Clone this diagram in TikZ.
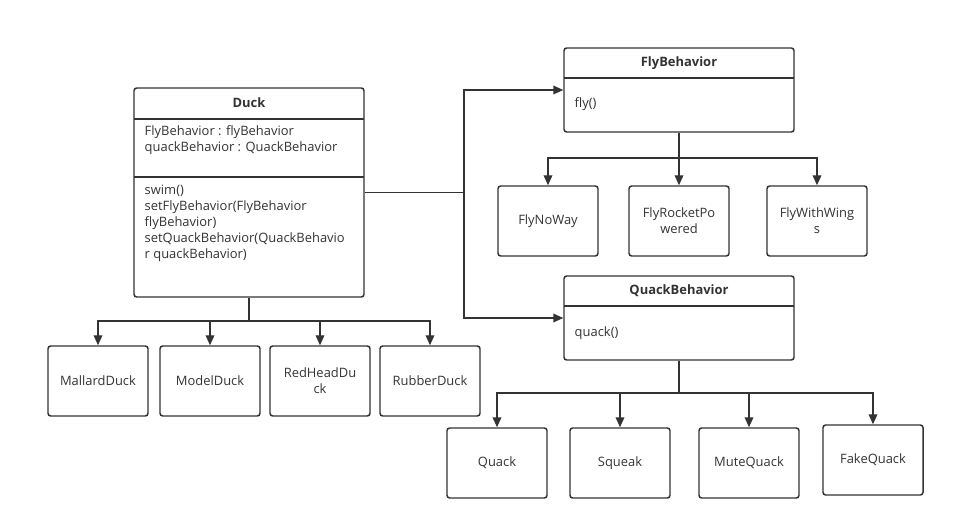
\documentclass[tikz,border=0pt]{standalone}
\usepackage{fontspec}
\setmainfont{Open Sans}
\usetikzlibrary{arrows.meta}
\definecolor{umlgray}{HTML}{333333}

\begin{document}
\begin{tikzpicture}[x=0.75pt,y=-0.75pt,line width=1.1pt,
	every node/.style={text=umlgray,font=\fontsize{9.7}{12}\selectfont},
	classbox/.style={draw=umlgray,rounded corners=2pt,inner sep=0pt,minimum width=172.5pt},
	subbox/.style={draw=umlgray,rounded corners=2pt,minimum width=75pt,minimum height=52.5pt,align=center,inner sep=1pt},
	titletext/.style={font=\fontsize{9.7}{12}\selectfont\bfseries},
	bodytext/.style={anchor=north west,align=left,inner sep=0pt},
	arr/.style={draw=umlgray,-{Triangle[length=7.5pt,width=6.5pt]}},
	bus/.style={draw=umlgray}]
	\useasboundingbox (0,0) rectangle (955,530);

	% classes
	\node[classbox,minimum height=156.75pt] (duck)  at (249,192.5) {};
	\node[classbox,minimum height=63pt]     (fly)   at (679,90)    {};
	\node[classbox,minimum height=63pt]     (quack) at (679,318)   {};

	\node[titletext] (ducktitle)  at (249,103) {Duck};
	\node[titletext] (flytitle)   at (679,63)  {FlyBehavior};
	\node[titletext] (quacktitle) at (679,291) {QuackBehavior};

	\draw[umlgray] (134,119) -- (364,119);
	\draw[umlgray] (134,177) -- (364,177);
	\draw[umlgray] (564,78)  -- (794,78);
	\draw[umlgray] (564,306) -- (794,306);

	\node[bodytext] (duckfields) at (144,124.5) {FlyBehavior : flyBehavior\\quackBehavior : QuackBehavior};
	\node[bodytext] (duckmethods) at (144,184.5) {swim()\\setFlyBehavior(FlyBehavior\\flyBehavior)\\setQuackBehavior(QuackBehavio\\r quackBehavior)};
	\node[bodytext] (flymethods)   at (574,97)  {fly()};
	\node[bodytext] (quackmethods) at (574,326) {quack()};

	% subclasses
	\node[subbox] (mallard)  at (98,381)  {MallardDuck};
	\node[subbox] (model)    at (210,381) {ModelDuck};
	\node[subbox] (redhead)  at (320,381) {RedHeadDu\\ck};
	\node[subbox] (rubber)   at (430,381) {RubberDuck};

	\node[subbox] (flynoway)  at (548,221) {FlyNoWay};
	\node[subbox] (flyrocket) at (679,221) {FlyRocketPo\\wered};
	\node[subbox] (flywings)  at (817,221) {FlyWithWing\\s};

	\node[subbox] (quackq)   at (497,463) {Quack};
	\node[subbox] (squeak)   at (620,463) {Squeak};
	\node[subbox] (mute)     at (749,463) {MuteQuack};
	\node[subbox] (fake)     at (873,460) {FakeQuack};

	% connectors
	\coordinate (split)    at (464,192.5);
	\coordinate (duckbus)  at (249,321);
	\coordinate (flybus)   at (679,158);
	\coordinate (quackbus) at (679,393);

	\path[bus] (duck.east) -- (split);
	\path[arr] (split) |- (fly.west);
	\path[arr] (split) |- (quack.west);

	\path[bus] (duck.south) -- (duckbus);
	\path[arr] (duckbus) -| (mallard.north);
	\path[arr] (duckbus) -| (model.north);
	\path[arr] (duckbus) -| (redhead.north);
	\path[arr] (duckbus) -| (rubber.north);

	\path[bus] (fly.south) -- (flybus);
	\path[arr] (flybus) -| (flynoway.north);
	\path[arr] (flybus) -- (flyrocket.north);
	\path[arr] (flybus) -| (flywings.north);

	\path[bus] (quack.south) -- (quackbus);
	\path[arr] (quackbus) -| (quackq.north);
	\path[arr] (quackbus) -| (squeak.north);
	\path[arr] (quackbus) -| (mute.north);
	\path[arr] (quackbus) -| (fake.north);
\end{tikzpicture}
\end{document}
